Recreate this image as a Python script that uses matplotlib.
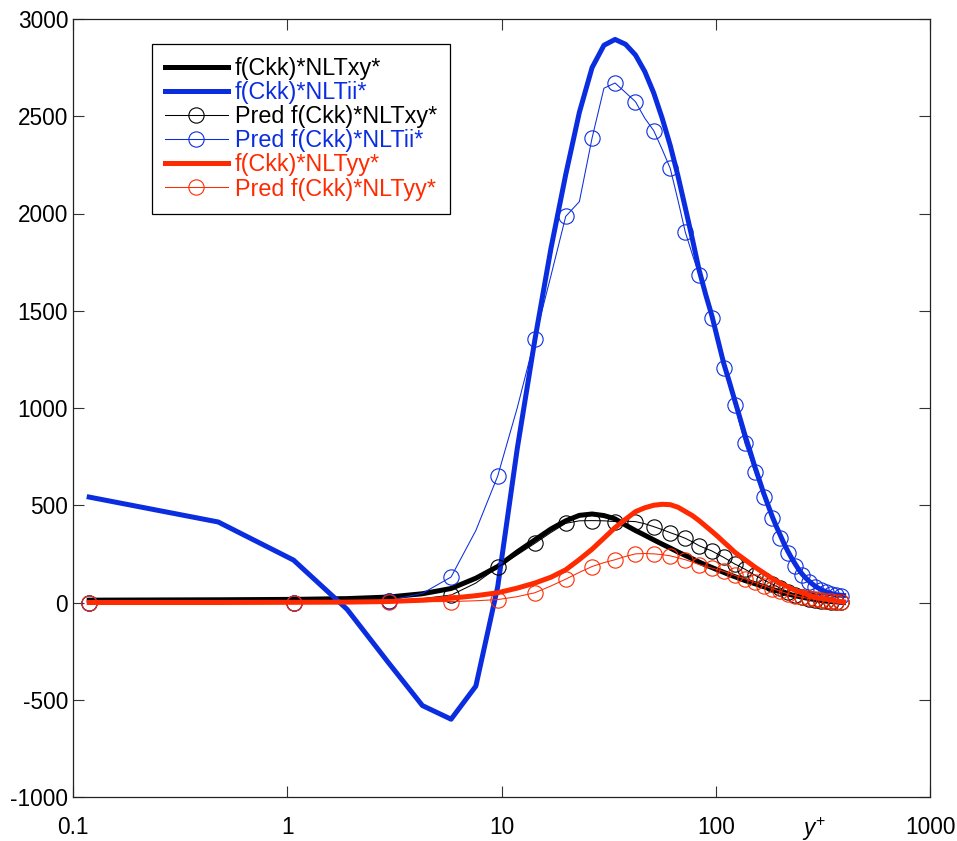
import matplotlib
matplotlib.use("Agg")
import matplotlib.pyplot as plt

plt.rcParams['font.family'] = ['Liberation Sans', 'DejaVu Sans']
plt.rcParams['mathtext.fontset'] = 'custom'
plt.rcParams['mathtext.rm'] = 'Liberation Sans'
plt.rcParams['mathtext.it'] = 'Liberation Sans:italic'

# wall-normal grid points (y+)
yplus = [0.119, 0.476, 1.070, 1.902, 2.970, 4.275, 5.816, 7.590, 9.598, 11.84,
         14.31, 17.01, 19.94, 23.09, 26.47, 30.07, 33.89, 37.93, 42.19, 46.64,
         51.34, 56.22, 61.31, 66.57, 72.07, 77.74, 83.59, 89.66, 95.90, 102.3,
         108.9, 115.7, 122.6, 129.6, 136.9, 144.4, 152.0, 159.7, 167.6, 175.5,
         183.7, 191.9, 200.3, 208.8, 217.4, 226.1, 234.9, 243.8, 252.8, 261.9,
         271.1, 280.3, 289.6, 299.0, 308.5, 317.9, 327.5, 337.0, 346.6, 356.3,
         365.9, 375.6, 385.3, 395.0]

nlt_xy = [12, 14, 16, 20, 28, 45, 72, 125, 185, 260,
          322, 378, 420, 448, 455, 447, 430, 398, 370, 346,
          322, 300, 280, 260, 242, 225, 208, 193, 180, 167,
          155, 143, 133, 123, 113, 105, 97, 89, 81, 74,
          67, 61, 55, 49, 44, 39, 35, 31, 27, 24,
          21, 18, 15, 13, 11, 9, 7, 6, 5, 4,
          3, 2, 1, 0]

nlt_ii = [542, 414, 218, -35, -310, -530, -600, -430, 80, 790,
          1350, 1820, 2200, 2520, 2750, 2865, 2895, 2870, 2815, 2730,
          2620, 2490, 2350, 2195, 2030, 1870, 1710, 1585, 1475, 1350,
          1230, 1135, 1040, 950, 860, 780, 700, 630, 560, 500,
          441, 390, 345, 300, 262, 228, 198, 170, 147, 128,
          112, 98, 86, 76, 68, 61, 55, 50, 46, 42,
          40, 38, 37, 36]

pred_xy = [0, 0, 0, 3, 9, 20, 38, 100, 181, 245,
           304, 360, 407, 420, 421, 420, 416, 418, 416, 405,
           390, 375, 359, 345, 330, 312, 292, 278, 265, 248,
           232, 215, 198, 185, 171, 156, 141, 128, 116, 105,
           95, 84, 73, 64, 56, 47, 39, 33, 28, 24,
           20, 17, 14, 12, 10, 8, 7, 6, 5, 4,
           3, 2, 2, 1]

pred_ii = [0, 0, 0, 3, 10, 47, 131, 370, 650, 1000,
           1355, 1680, 1985, 2061, 2388, 2644, 2671, 2622, 2575, 2490,
           2426, 2330, 2232, 2070, 1905, 1790, 1684, 1575, 1464, 1330,
           1207, 1110, 1015, 915, 818, 745, 672, 605, 544, 488,
           433, 380, 333, 290, 253, 218, 188, 162, 141, 122,
           107, 93, 81, 72, 64, 57, 52, 47, 43, 39,
           36, 34, 32, 31]

nlt_yy = [0, 0, 1, 2, 5, 12, 22, 35, 50, 74,
          100, 130, 168, 221, 274, 331, 385, 428, 467, 487,
          500, 505, 503, 490, 468, 447, 421, 393, 366, 339,
          311, 285, 259, 239, 220, 201, 183, 167, 152, 137,
          123, 111, 100, 90, 80, 71, 62, 56, 50, 44,
          38, 32, 27, 24, 22, 19, 17, 15, 12, 10,
          8, 6, 4, 3]

pred_yy = [0, 0, 0, 1, 3, 4, 5, 9, 15, 30,
           50, 85, 120, 155, 185, 205, 220, 237, 250, 252,
           250, 246, 240, 230, 220, 208, 195, 185, 177, 168,
           160, 150, 140, 130, 122, 112, 104, 95, 87, 79,
           71, 64, 57, 51, 45, 40, 35, 31, 27, 24,
           21, 18, 16, 14, 12, 10, 9, 8, 7, 6,
           5, 4, 4, 3]

x_ticks = [0.1, 1, 10, 100, 1000]
x_tick_labels = ["0.1", "1", "10", "100", "1000"]
y_ticks = [-1000, -500, 0, 500, 1000, 1500, 2000, 2500, 3000]

BLACK = "#000000"
BLUE = "#0b2de0"
RED = "#ff2a00"

fig = plt.figure(figsize=(9.57, 8.41), dpi=100)
ax = fig.add_axes([73 / 957, 1 - 797 / 841, (930 - 73) / 957, (797 - 19) / 841])

thick = 3.6
thin = 0.75
ms = 11
mkw = dict(marker='o', markersize=ms, markerfacecolor='none',
           markeredgewidth=0.8, markevery=(0, 2))

ax.plot(yplus, nlt_xy, color=BLACK, lw=thick, label='f(Ckk)*NLTxy*')
ax.plot(yplus, nlt_ii, color=BLUE, lw=thick, label='f(Ckk)*NLTii*')
ax.plot(yplus, pred_xy, color=BLACK, lw=thin, markeredgecolor=BLACK,
        label='Pred f(Ckk)*NLTxy*', **mkw)
ax.plot(yplus, pred_ii, color=BLUE, lw=thin, markeredgecolor=BLUE,
        label='Pred f(Ckk)*NLTii*', **mkw)
ax.plot(yplus, nlt_yy, color=RED, lw=thick, label='f(Ckk)*NLTyy*')
ax.plot(yplus, pred_yy, color=RED, lw=thin, markeredgecolor=RED,
        label='Pred f(Ckk)*NLTyy*', **mkw)

ax.set_xscale('log')
ax.set_xlim(0.1, 1000)
ax.set_ylim(-1000, 3000)
ax.set_xticks(x_ticks, x_tick_labels)
ax.xaxis.set_minor_locator(matplotlib.ticker.NullLocator())
ax.set_yticks(y_ticks, [str(v) for v in y_ticks])

ax.tick_params(axis='both', which='major', direction='in', length=8,
               width=0.8, labelsize=16.3, top=True, right=True, color='#333333')
ax.tick_params(axis='x', pad=14)
ax.tick_params(axis='y', pad=3.5)
for sp in ax.spines.values():
    sp.set_linewidth(0.9)
    sp.set_color('#222222')

ax.text((814 - 73) / 857, -18 / 778, r'$\mathit{y}^{+}$', transform=ax.transAxes,
        ha='center', va='top', fontsize=16.3)

leg = ax.legend(loc='upper left', bbox_to_anchor=(79 / 857, 1 - 25 / 778),
                borderaxespad=0, fontsize=16.8, frameon=True, fancybox=False,
                framealpha=1, edgecolor='black', handlelength=2.7,
                handletextpad=0.3, labelspacing=0.05, borderpad=0.55,
                numpoints=1)
leg.get_frame().set_linewidth(0.9)
for txt, col in zip(leg.get_texts(), [BLACK, BLUE, BLACK, BLUE, RED, RED]):
    txt.set_color(col)

fig.savefig("out.png", dpi=100)
